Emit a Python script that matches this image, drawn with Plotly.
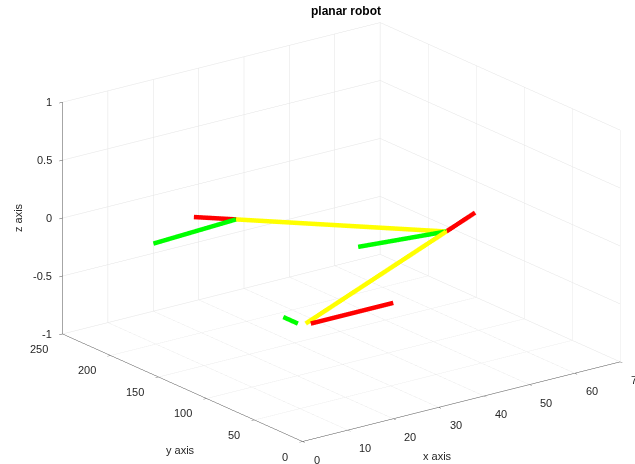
import plotly.graph_objects as go

# Robot geometry: base, joint 1, end point (z = 0 plane)
joint_x = [0.0, 50.0, 24.1]
joint_y = [0.0, 86.6, 183.2]
joint_z = [0.0, 0.0, 0.0]

# Frame axis tips at each joint: red = local x-axis, green = local y-axis
red_tip_x = [20.0, 60.0, 18.9]
red_tip_y = [0.0, 103.9, 202.5]
green_tip_x = [0.0, 32.7, 4.8]
green_tip_y = [20.0, 96.6, 178.0]

x_ticks = [0, 10, 20, 30, 40, 50, 60, 70]
y_ticks = [0, 50, 100, 150, 200, 250]
z_ticks = [-1, -0.5, 0, 0.5, 1]
x_tick_text = ["0", "10", "20", "30", "40", "50", "60", "70"]
y_tick_text = ["0", "50", "100", "150", "200", "250"]
z_tick_text = ["-1", "-0.5", "0", "0.5", "1"]

X_RANGE = [0, 70]
Y_RANGE = [0, 250]
Z_RANGE = [-1, 1]

W = 9
fig = go.Figure()
# links
fig.add_trace(go.Scatter3d(x=joint_x, y=joint_y, z=joint_z, mode="lines",
                           line=dict(color="#ffff00", width=W), showlegend=False,
                           hoverinfo="skip"))
for i in range(3):
    fig.add_trace(go.Scatter3d(x=[joint_x[i], red_tip_x[i]], y=[joint_y[i], red_tip_y[i]],
                               z=[0, 0], mode="lines", line=dict(color="#ff0000", width=W),
                               showlegend=False, hoverinfo="skip"))
    fig.add_trace(go.Scatter3d(x=[joint_x[i], green_tip_x[i]], y=[joint_y[i], green_tip_y[i]],
                               z=[0, 0], mode="lines", line=dict(color="#00ff00", width=W),
                               showlegend=False, hoverinfo="skip"))

font = dict(family="Liberation Sans, Arial, sans-serif", size=11, color="#262626")
axis_common = dict(showbackground=False, gridcolor="#e3e3e3", gridwidth=1,
                   showline=True, linecolor="#4d4d4d", linewidth=1,
                   ticks="outside", ticklen=4, tickcolor="#4d4d4d",
                   showticklabels=False,
                   zeroline=False, showspikes=False, tickfont=font,
                   title=dict(text=""))

# MATLAB-style horizontal tick labels placed at the tick positions in data space
scene_ann = []
for v, t in zip(x_ticks, x_tick_text):
    scene_ann.append(dict(x=v, y=Y_RANGE[0], z=Z_RANGE[0], text=t, showarrow=False,
                          xanchor="left", yanchor="middle", xshift=9, yshift=-18,
                          font=font))
for v, t in zip(y_ticks, y_tick_text):
    scene_ann.append(dict(x=X_RANGE[0], y=v, z=Z_RANGE[0], text=t, showarrow=False,
                          xanchor="right", yanchor="middle", xshift=-13, yshift=-15,
                          font=font))
for v, t in zip(z_ticks, z_tick_text):
    scene_ann.append(dict(x=X_RANGE[0], y=Y_RANGE[1], z=v, text=t, showarrow=False,
                          xanchor="right", yanchor="middle", xshift=-9, yshift=0,
                          font=font))

D = 1.12
K = 1.71
dirv = (-0.564, -0.754, 0.335)
cen = (-0.082, 0.062, 0.0)
fig.update_layout(
    width=635, height=464,
    margin=dict(l=0, r=0, t=0, b=0),
    paper_bgcolor="white",
    scene=dict(
        domain=dict(x=[0.0, 1.0], y=[0.0, 1.0]),
        xaxis=dict(range=X_RANGE, tickvals=x_ticks, **axis_common),
        yaxis=dict(range=Y_RANGE, tickvals=y_ticks, **axis_common),
        zaxis=dict(range=Z_RANGE, tickvals=z_ticks, **axis_common),
        aspectmode="manual",
        aspectratio=dict(x=1 * K, y=1.01 * K, z=0.62 * K),
        camera=dict(eye=dict(x=cen[0] + dirv[0] * D, y=cen[1] + dirv[1] * D,
                             z=cen[2] + dirv[2] * D),
                    up=dict(x=0, y=0, z=1), center=dict(x=cen[0], y=cen[1], z=cen[2]),
                    projection=dict(type="orthographic")),
        annotations=scene_ann,
    ),
    annotations=[
        dict(text="<b>planar robot</b>", x=0.545, y=0.995, xref="paper", yref="paper",
             xanchor="center", yanchor="top", showarrow=False,
             font=dict(family="Liberation Sans, Arial, sans-serif", size=12, color="black")),
        dict(text="x axis", x=437 / 635, y=1 - 456 / 464, xref="paper", yref="paper",
             xanchor="center", yanchor="middle", showarrow=False, font=font),
        dict(text="y axis", x=180 / 635, y=1 - 450 / 464, xref="paper", yref="paper",
             xanchor="center", yanchor="middle", showarrow=False, font=font),
        dict(text="z axis", x=18 / 635, y=1 - 218 / 464, xref="paper", yref="paper",
             xanchor="center", yanchor="middle", showarrow=False, textangle=-90, font=font),
    ],
)

fig.write_html("out.html")
